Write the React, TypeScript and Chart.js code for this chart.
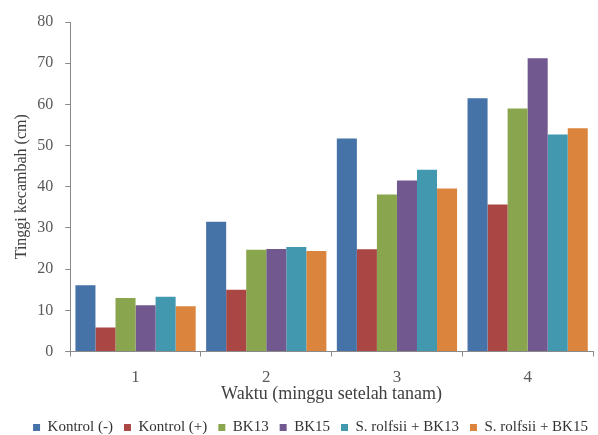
import React, { useEffect, useRef } from "react";
import { Chart, registerables } from "chart.js";

Chart.register(...registerables);

const weeks = ["1", "2", "3", "4"];
const kontrolMinus = [16.1, 31.5, 51.7, 61.5];
const kontrolPlus = [5.8, 15.0, 24.8, 35.7];
const bk13 = [13.0, 24.7, 38.1, 59.0];
const bk15 = [11.2, 24.9, 41.5, 71.2];
const rolfsiiBk13 = [13.3, 25.4, 44.1, 52.7];
const rolfsiiBk15 = [11.0, 24.4, 39.6, 54.2];

const seriesNames = [
  "Kontrol (-)",
  "Kontrol (+)",
  "BK13",
  "BK15",
  "S. rolfsii + BK13",
  "S. rolfsii + BK15",
];
const seriesColors = ["#4572A7", "#AA4643", "#89A54E", "#71588F", "#4198AF", "#DB843D"];

const serif = "'Liberation Serif', 'DejaVu Serif', serif";
const tickColor = "#595959";
const titleColor = "#404040";
const axisColor = "#8a8a8a";

// nudge the legend row a little to the right of the canvas centre
const legendShift = {
  id: "legendShift",
  afterLayout(chart: any) {
    const l = chart.legend;
    if (l) {
      l.left += 8;
      l.right += 8;
    }
  },
};

export default function App() {
  const canvasRef = useRef<HTMLCanvasElement | null>(null);

  useEffect(() => {
    if (!canvasRef.current) return;
    const values = [kontrolMinus, kontrolPlus, bk13, bk15, rolfsiiBk13, rolfsiiBk15];
    const chart = new Chart(canvasRef.current, {
      type: "bar",
      data: {
        labels: weeks,
        datasets: values.map((v, i) => ({
          label: seriesNames[i],
          data: v,
          backgroundColor: seriesColors[i],
          borderWidth: 0,
          categoryPercentage: 0.92,
          barPercentage: 1,
        })),
      },
      plugins: [legendShift],
      options: {
        responsive: false,
        animation: false,
        layout: { padding: { left: 12, right: 5, top: 22, bottom: 0 } },
        plugins: {
          tooltip: { enabled: false },
          legend: {
            position: "bottom",
            labels: {
              boxWidth: 7,
              boxHeight: 7,
              padding: 11,
              color: "#333",
              font: { family: serif, size: 15 },
            },
          },
        },
        scales: {
          x: {
            grid: {
              display: true,
              drawOnChartArea: false,
              offset: true,
              tickLength: 5,
              color: axisColor,
            },
            border: { color: axisColor },
            ticks: { color: tickColor, font: { family: serif, size: 17 }, padding: 11 },
            title: {
              display: true,
              text: "Waktu (minggu setelah tanam)",
              color: titleColor,
              font: { family: serif, size: 18 },
              padding: { top: -15, bottom: 3.5 },
            },
          },
          y: {
            min: 0,
            max: 80,
            grid: {
              display: true,
              drawOnChartArea: false,
              tickLength: 5,
              color: axisColor,
            },
            border: { color: axisColor },
            ticks: { stepSize: 10, color: tickColor, font: { family: serif, size: 16 }, padding: 12 },
            title: {
              display: true,
              text: "Tinggi kecambah (cm)",
              color: titleColor,
              font: { family: serif, size: 16 },
              padding: { top: 0, bottom: -6 },
            },
          },
        },
      },
    });
    return () => chart.destroy();
  }, []);

  return (
    <div
      style={{
        position: "absolute",
        left: 0,
        top: 0,
        width: 598,
        height: 435,
        overflow: "hidden",
        background: "#fff",
      }}
    >
      <canvas ref={canvasRef} width={598} height={445} />
    </div>
  );
}
